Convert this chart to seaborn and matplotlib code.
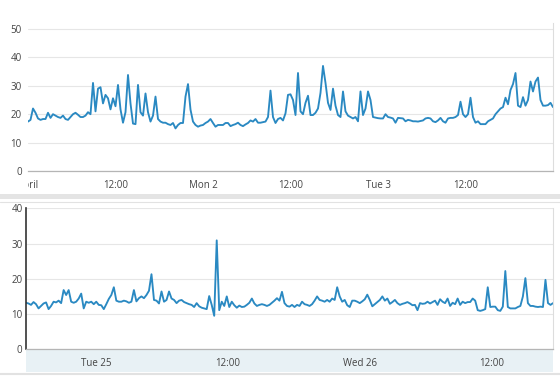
import numpy as np
import pandas as pd
import matplotlib
matplotlib.use("Agg")
import matplotlib.pyplot as plt
import matplotlib.dates as mdates
from matplotlib.patches import Rectangle
from matplotlib.lines import Line2D
from matplotlib.transforms import Bbox, TransformedBbox
import seaborn as sns

# ---------------- data ----------------
top_values = [
    17.4, 18, 22, 20.5, 18.5, 18, 18.3, 18.3, 20.5, 18.7, 20, 19.5, 19, 18.7, 19.5, 18.3, 18, 19, 20, 20.5,
    19.8, 19, 19, 19.5, 20.7, 20, 31, 21, 29, 29.5, 23.8, 26.8, 25.6, 21.7, 25.6, 22.8, 30.3, 21.7, 17, 20.7,
    33.8, 23.8, 16.7, 16.5, 30.3, 20.7, 19.5, 27.3, 20.7, 17.4, 19.5, 26.2, 18.3, 17.4, 17, 17, 16.5, 16.2, 16.9, 15,
    16.2, 16.9, 16.9, 26.2, 30.6, 21.6, 17.4, 16.2, 15.6, 16, 16.2, 16.9, 17.4, 18.3, 16.9, 15.6, 16.2, 16.2, 16.2, 16.9,
    16.9, 15.8, 16.2, 16.5, 17, 16.2, 15.8, 16.4, 16.9, 17.8, 17.4, 18.3, 17, 17, 17.2, 17.4, 19, 28.3, 19, 16.9,
    18.3, 18.7, 17.8, 20.3, 26.8, 27, 25, 19.7, 34.5, 21, 20, 24, 26.5, 19.7, 19.7, 20.5, 22, 27.5, 37, 31,
    24, 21.5, 29, 23, 19.7, 19, 28, 21, 19.5, 19, 18.5, 19, 17.5, 28, 19.7, 22, 28, 25, 19, 18.8,
    18.6, 18.5, 18.5, 20, 19, 18.8, 18.5, 17, 18.7, 18.6, 18.5, 17.5, 18, 17.8, 17.5, 17.5, 17.4, 17.6, 17.8, 18.5,
    18.7, 18.5, 17.5, 17.2, 17.8, 18.7, 17.5, 17, 18.5, 18.7, 18.7, 19, 19.7, 24.4, 20, 19, 20, 25.8, 19, 17,
    17.5, 16.5, 16.5, 16.5, 17.5, 18, 18.5, 20, 21, 22, 22.5, 25.8, 23.5, 28.5, 30.6, 34.5, 23, 22.5, 26, 23,
    25, 31.5, 28, 31.5, 32.9, 25, 23, 23, 23.2, 24, 22.5,
]

bottom_values = [
    13.2, 13, 12.6, 13.4, 12.8, 11.6, 12.3, 13, 13.3, 11.4, 12.3, 13.5, 13.3, 13.8, 13.1, 16.8, 15.4, 16.8, 13.5, 13.2,
    13.5, 14.4, 15.8, 11.6, 13.5, 13.2, 13.5, 12.8, 13.5, 12.6, 12.5, 11.4, 12.8, 14.3, 15.4, 17.6, 13.8, 13.5, 13.5, 13.8,
    13.6, 13.2, 13.5, 16.8, 13.6, 14.5, 15, 14.5, 15.4, 16.6, 21.3, 14, 13.8, 13, 16.4, 13.5, 14, 16.4, 14.4, 14,
    13.1, 13.8, 14, 13.4, 13.1, 12.8, 12.6, 12, 13.1, 12.2, 11.8, 11.6, 11.4, 15.1, 12.6, 9.5, 30.9, 11.1, 13.5, 12.3,
    15, 12, 13.5, 12.5, 11.8, 12.4, 12, 12.1, 12.6, 13.2, 14.4, 13, 12.3, 12.6, 12.8, 12.6, 12.3, 12.6, 13.2, 13.8,
    14.5, 13.8, 16.3, 13.1, 12.3, 12.1, 12.6, 12, 12.6, 12.3, 13.5, 12.8, 12.6, 12.3, 12.8, 13.8, 15, 14, 13.8, 13.5,
    14, 13.5, 14.4, 14, 17.6, 15, 13.5, 14, 12.5, 12, 13.8, 13.8, 13.5, 13.1, 13.6, 14.2, 15.5, 14, 12.2, 12.8,
    13.4, 14, 15, 13.8, 14.4, 12.9, 13.4, 14, 13.1, 12.6, 12.9, 13.1, 13.4, 13, 12.5, 12.6, 11.1, 13.1, 12.9, 13,
    13.5, 13, 13.4, 13.8, 12.6, 14.2, 13.5, 13.1, 14.4, 12.3, 13.2, 12.8, 14.4, 12.6, 13.5, 13.1, 13.4, 13.4, 14.4, 13.8,
    11.1, 10.9, 11.1, 11.4, 17.6, 12, 12.1, 12.1, 11.1, 10.9, 12.1, 22.2, 12, 11.6, 11.6, 11.6, 12, 12.3, 15, 20.2,
    13.1, 12.3, 12.3, 12.1, 12, 12.1, 12, 19.7, 13.1, 12.6, 13.1,
]

top_start, top_end = "2018-04-01 00:00", "2018-04-04 00:00"
bottom_start, bottom_end = "2018-09-24 17:36", "2018-09-26 17:36"

top_tick_times = ["2018-04-01 00:00", "2018-04-01 12:00", "2018-04-02 00:00",
                  "2018-04-02 12:00", "2018-04-03 00:00", "2018-04-03 12:00"]
top_tick_labels = ["April", "12:00", "Mon 2", "12:00", "Tue 3", "12:00"]
bottom_tick_times = ["2018-09-25 00:00", "2018-09-25 12:00", "2018-09-26 00:00", "2018-09-26 12:00"]
bottom_tick_labels = ["Tue 25", "12:00", "Wed 26", "12:00"]

top_yticks = [0, 10, 20, 30, 40, 50]
bottom_yticks = [0, 10, 20, 30, 40]

# ---------------- frames ----------------
df_top = pd.DataFrame({
    "time": pd.date_range(top_start, top_end, periods=len(top_values)),
    "value": top_values,
})
df_bottom = pd.DataFrame({
    "time": pd.date_range(bottom_start, bottom_end, periods=len(bottom_values)),
    "value": bottom_values,
})

# ---------------- style ----------------
sns.set_style("white")
plt.rcParams["font.family"] = ["Open Sans", "DejaVu Sans"]
plt.rcParams["font.size"] = 7

LINE = "#2a89c2"
TXT = "#444444"
GRID = "#e6e6e6"

W, H = 560, 376
fig = plt.figure(figsize=(W / 100, H / 100), dpi=100)
fig.patch.set_facecolor("white")


def fx(px):
    return px / W


def fy(py):
    return 1 - py / H


# top axes: x 28..553, y from 0 at 171 to 52 at ~23.3
ax1 = fig.add_axes([fx(28), fy(171), fx(553 - 28), fy(23.3) - fy(171)])
# bottom axes: x 26..553, y 0 at 349.3, 40 at 208.3
ax2 = fig.add_axes([fx(26), fy(349.3), fx(553 - 26), fy(208.3) - fy(349.3)])

# decorations (frames / separators like the screenshot)
fig.add_artist(Rectangle((0, fy(199)), 1, fy(194) - fy(199), transform=fig.transFigure,
                         facecolor="#e4e4e4", edgecolor="none", zorder=0))
fig.add_artist(Line2D([0, 1], [fy(201.5), fy(201.5)], transform=fig.transFigure,
                      color="#e2e2e2", lw=0.8, zorder=0))
fig.add_artist(Rectangle((fx(26), fy(372)), fx(553 - 26), fy(349.5) - fy(372), transform=fig.transFigure,
                         facecolor="#e8f1f5", edgecolor="none", zorder=0))
fig.add_artist(Line2D([0, 1], [fy(374), fy(374)], transform=fig.transFigure,
                      color="#e2e2e2", lw=1.5, zorder=0))

sns.lineplot(data=df_top, x="time", y="value", ax=ax1, color=LINE, linewidth=1.35)
sns.lineplot(data=df_bottom, x="time", y="value", ax=ax2, color=LINE, linewidth=1.35)

ax1.set_xlim(pd.Timestamp(top_start), pd.Timestamp(top_end))
ax1.set_ylim(0, 52)
ax2.set_xlim(pd.Timestamp(bottom_start), pd.Timestamp(bottom_end))
ax2.set_ylim(0, 40)

for ax, tt, tl, yt in ((ax1, top_tick_times, top_tick_labels, top_yticks),
                       (ax2, bottom_tick_times, bottom_tick_labels, bottom_yticks)):
    ax.set_facecolor("none")
    ax.set_xlabel("")
    ax.set_ylabel("")
    ax.set_xticks([mdates.date2num(pd.Timestamp(t)) for t in tt])
    ax.set_xticklabels(tl)
    ax.set_yticks(yt)
    ax.set_yticklabels([str(v) for v in yt])
    ax.grid(axis="y", color=GRID, linewidth=0.8)
    ax.grid(axis="x", visible=False)
    ax.tick_params(axis="x", length=3.5, width=0.8, color="#999999", pad=3, labelcolor=TXT, labelsize=7)
    ax.tick_params(axis="y", length=0, labelcolor=TXT, labelsize=7)
    ax.spines["top"].set_visible(False)
    ax.spines["bottom"].set_color("#b5b5b5")
    ax.spines["bottom"].set_linewidth(0.9)
    ax.spines["right"].set_color("#dddddd")
    ax.spines["right"].set_linewidth(0.8)

ax1.spines["left"].set_visible(False)
ax1.tick_params(axis="y", pad=4.5)
ax2.spines["left"].set_color("#333333")
ax2.spines["left"].set_linewidth(1.2)
ax2.tick_params(axis="y", pad=2.5)

# the first top label is cut by the chart's left edge in the screenshot
clip = TransformedBbox(Bbox([[fx(27.5), 0], [1, 1]]), fig.transFigure)
first = ax1.get_xticklabels()[0]
first.set_clip_on(True)
first.set_clip_box(clip)

fig.savefig("out.png", dpi=100)
